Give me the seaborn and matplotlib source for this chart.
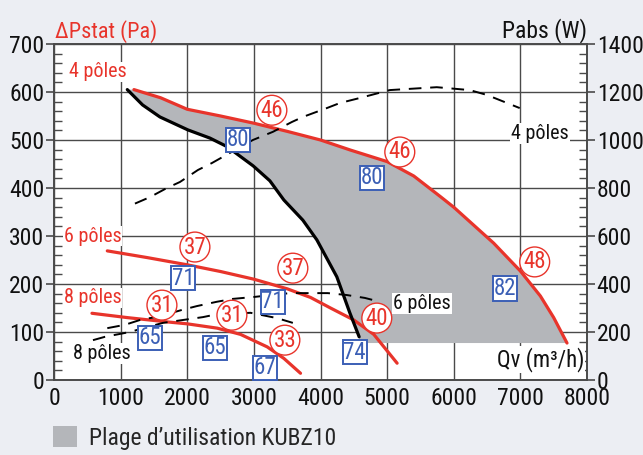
import numpy as np
import pandas as pd
import matplotlib
matplotlib.use("Agg")
import matplotlib.pyplot as plt
from matplotlib import font_manager as fm
import seaborn as sns
from matplotlib.patches import Patch
from matplotlib.ticker import MultipleLocator

# ---------------- data ----------------
# pressure curves (Pa) vs Qv (m3/h)
p4_x = [1200, 1600, 2000, 2500, 3000, 3500, 4000, 4450, 5000, 5400, 5800, 6000, 6200, 6600, 7000, 7300, 7500, 7700]
p4_y = [605, 588, 564, 550, 535, 518, 500, 479, 455, 425, 382, 360, 335, 285, 227, 175, 130, 77]
p6_x = [800, 1400, 2000, 2500, 3000, 3500, 3850, 4150, 4500, 4800, 5150]
p6_y = [269, 255, 240, 226, 210, 190, 172, 150, 125, 95, 35]
p8_x = [570, 1100, 1700, 2000, 2450, 2800, 3200, 3450, 3700]
p8_y = [139, 130, 121, 117, 108, 95, 69, 45, 14]

# usage-limit curve (Pa)
lim_x = [1100, 1330, 1590, 2010, 2340, 2600, 2990, 3240, 3450, 3735, 3945, 4245, 4440, 4580]
lim_y = [605, 573, 548, 521, 504, 486, 446, 415, 375, 333, 292, 215, 140, 90]
range_floor = 77

# absorbed power curves (W)
w4_x = [1215, 1440, 1695, 1890, 2160, 2370, 2985, 3285, 3570, 3735, 4095, 4290, 4590, 5040, 5745, 6240, 6495, 6990]
w4_y = [735, 762, 800, 825, 875, 904, 1000, 1034, 1075, 1096, 1133, 1154, 1175, 1208, 1220, 1208, 1188, 1133]
w6_x = [800, 1065, 1335, 1545, 1920, 2145, 2445, 2685, 3000, 3540, 3840, 4110, 4395, 4665, 4890]
w6_y = [216, 230, 254, 262, 292, 308, 326, 338, 346, 362, 362, 362, 354, 342, 326]
w8_x = [585, 765, 1140, 1290, 1635, 1935, 2235, 2445, 2950, 3345, 3585]
w8_y = [166, 180, 200, 212, 238, 250, 262, 274, 280, 258, 238]

# efficiency labels (circled, red) and sound labels (boxed, blue)
circ_x = [3270, 5190, 2115, 3585, 1620, 2670, 3465, 4845, 7215]
circ_y = [562, 475, 277, 233, 156, 135, 83, 129, 246]
circ_t = ["46", "46", "37", "37", "31", "31", "33", "40", "48"]
box_x = [2760, 4770, 1935, 3285, 1440, 2415, 3165, 4515, 6765]
box_y = [500, 421, 212, 163, 88, 67, 25, 58, 191]
box_t = ["80", "80", "71", "71", "65", "65", "67", "74", "82"]

x_ticks = [0, 1000, 2000, 3000, 4000, 5000, 6000, 7000, 8000]
yl_ticks = [0, 100, 200, 300, 400, 500, 600, 700]
yr_ticks = [0, 200, 400, 600, 800, 1000, 1200, 1400]

# ---------------- style ----------------
RED = "#e8342b"
BLUE = "#3b5fb5"
GRAY = "#b4b6ba"
GRID = "#4a4a4a"
BG = "#eceef3"

sns.set_theme(style="white")

# choose a condensed face if one is installed
names = {f.name for f in fm.fontManager.ttflist}
stretches = {(f.name, f.stretch) for f in fm.fontManager.ttflist}
family = ["DejaVu Sans"]
stretch = "normal"
for cand in ["Liberation Sans Narrow", "Roboto Condensed", "Open Sans Condensed",
             "Noto Sans Condensed", "DejaVu Sans Condensed"]:
    if cand in names:
        family = [cand, "DejaVu Sans"]
        break
else:
    if any(n == "DejaVu Sans" and s in ("condensed", "semi-condensed", 500, 600)
           for n, s in stretches):
        stretch = "condensed"
plt.rcParams["font.family"] = family
plt.rcParams["font.stretch"] = stretch

condensed = family[0] != "DejaVu Sans" or stretch == "condensed"
k = 1.0 if condensed else 0.85
FS_TICK = 17 * k
FS_LAB = 14.5 * k
FS_NUM = 16.5 * k

fig = plt.figure(figsize=(6.43, 4.55), dpi=100, facecolor=BG)
ax = fig.add_axes([54 / 643, 75 / 455, 533 / 643, 336 / 455])
ax.set_facecolor("white")
ax2 = ax.twinx()

# usage range
poly_x = lim_x + [lim_x[-1], p4_x[-1]] + p4_x[::-1]
poly_y = lim_y + [range_floor, range_floor] + p4_y[::-1]
ax.fill(poly_x, poly_y, color=GRAY, lw=0, zorder=1)

def draw(axis, xs, ys, **kw):
    sns.lineplot(x=xs, y=ys, ax=axis, sort=False, estimator=None, legend=False, **kw)

for xs, ys in [(p4_x, p4_y), (p6_x, p6_y), (p8_x, p8_y)]:
    draw(ax, xs, ys, color=RED, linewidth=2.3, zorder=3)
draw(ax, lim_x, lim_y, color="black", linewidth=2.3, zorder=3)

for xs, ys in [(w4_x, w4_y), (w6_x, w6_y), (w8_x, w8_y)]:
    draw(ax2, xs, ys, color="black", linewidth=1.4, linestyle=(0, (6.5, 4.5)))

ax.set_xlim(0, 8000)
ax.set_ylim(0, 700)
ax2.set_ylim(0, 1400)
ax.set_xticks(x_ticks)
ax.set_yticks(yl_ticks)
ax2.set_yticks(yr_ticks)
ax.xaxis.set_minor_locator(MultipleLocator(200))
ax.yaxis.set_minor_locator(MultipleLocator(20))
ax2.yaxis.set_minor_locator(MultipleLocator(40))

ax.grid(True, which="major", color=GRID, linewidth=1.0)
for a in (ax, ax2):
    for s in a.spines.values():
        s.set_color(GRID)
        s.set_linewidth(1.2)

ax.tick_params(axis="both", which="major", direction="out", length=6, width=1.2,
               color=GRID, labelsize=FS_TICK, pad=1, labelcolor="#111111")
ax.tick_params(axis="x", which="major", direction="inout", length=8)
ax.tick_params(axis="both", which="minor", direction="in", length=6, width=1, color=GRID)
ax2.tick_params(axis="y", which="major", direction="out", length=6, width=1.2,
                color=GRID, labelsize=FS_TICK, pad=1, labelcolor="#111111")
ax2.tick_params(axis="y", which="minor", direction="in", length=6, width=1, color=GRID)
ax.set_xlabel("")
ax.set_ylabel("")
ax2.set_ylabel("")

# axis titles
ax.text(0.002, 1.004, "ΔPstat (Pa)", transform=ax.transAxes, color=RED,
        fontsize=16 * k, ha="left", va="bottom")
ax.text(1.0, 1.004, "Pabs (W)", transform=ax.transAxes, color="#111111",
        fontsize=17 * k, ha="right", va="bottom")

T = ax.transData
# curve labels
for x, y, s in [(660, 642, "4 pôles"), (585, 300, "6 pôles"), (585, 171, "8 pôles")]:
    ax2.text(x, y, s, transform=T, color=RED, fontsize=FS_LAB, ha="center", va="center",
             bbox=dict(boxstyle="square,pad=0.03", fc="white", ec="none"))
for x, y, s in [(7290, 514, "4 pôles"), (5520, 160, "6 pôles"), (720, 56, "8 pôles")]:
    ax2.text(x, y, s, transform=T, color="#111111", fontsize=FS_LAB, ha="center", va="center",
             bbox=dict(boxstyle="square,pad=0.05", fc="white", ec="none"))
ax2.text(7960, 42, "Qv (m³/h)", transform=T, color="#111111", fontsize=16.5 * k,
         ha="right", va="center",
         bbox=dict(boxstyle="square,pad=0.05", fc="white", ec="none"))

for x, y, s in zip(circ_x, circ_y, circ_t):
    ax2.text(x, y, s, transform=T, color=RED, fontsize=FS_NUM, ha="center", va="center",
             bbox=dict(boxstyle="circle,pad=0.15", fc="white", ec=RED, lw=1.0))
for x, y, s in zip(box_x, box_y, box_t):
    ax2.text(x, y, s, transform=T, color=BLUE, fontsize=FS_NUM, ha="center", va="center",
             bbox=dict(boxstyle="square,pad=0.03", fc="white", ec=BLUE, lw=1.4))

fig.legend(handles=[Patch(facecolor=GRAY, edgecolor="none",
                          label="Plage d’utilisation KUBZ10")],
           loc="lower left", bbox_to_anchor=(0.05, -0.035), frameon=False,
           fontsize=17 * k, handlelength=1.0, handleheight=1.0, handletextpad=0.5)

fig.savefig("out.png", dpi=100, facecolor=BG)
